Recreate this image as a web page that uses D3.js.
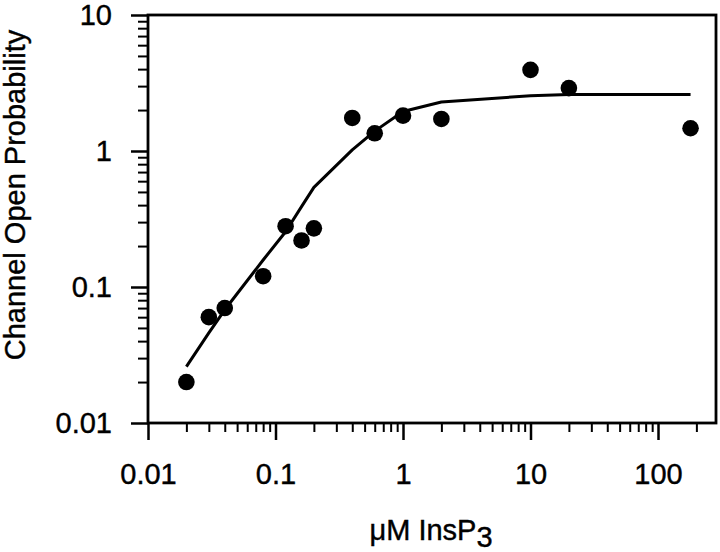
<!DOCTYPE html>
<html>
<head>
<meta charset="utf-8">
<script src="https://cdn.jsdelivr.net/npm/d3@7/dist/d3.min.js"></script>
<style>
  html, body { margin: 0; padding: 0; background: #fff; }
  svg { display: block; font-family: "Liberation Sans", Arial, Helvetica, sans-serif; }
</style>
</head>
<body>
<svg id="chart" width="720" height="552"></svg>
<script>
// Data
const concX = [0.02, 0.03, 0.04, 0.08, 0.12, 0.16, 0.2, 0.4, 0.6, 1, 2, 10, 20, 180];
const openP = [0.02, 0.06, 0.07, 0.12, 0.28, 0.22, 0.27, 1.75, 1.35, 1.82, 1.72, 3.95, 2.9, 1.47];
const fitX  = [0.02, 0.03, 0.04, 0.08, 0.12, 0.16, 0.2, 0.4, 0.6, 1, 2, 10, 20, 180];
const fitY  = [0.026, 0.046, 0.068, 0.158, 0.255, 0.39, 0.54, 1.02, 1.4, 1.95, 2.29, 2.55, 2.6, 2.6];
const xMajorTicks = [0.01, 0.1, 1, 10, 100];
const xTickLabels = ["0.01", "0.1", "1", "10", "100"];
const yMajorTicks = [0.01, 0.1, 1, 10];
const yTickLabels = ["0.01", "0.1", "1", "10"];
const xDomain = [0.01, 285];
const yDomain = [0.01, 10];

const svg = d3.select("#chart");
const L = 148, R = 716, T = 15, B = 423;

const x = d3.scaleLog().domain(xDomain).range([L, R]);
const y = d3.scaleLog().domain(yDomain).range([B, T]);

function minors(domain) {
  const out = [];
  for (let e = Math.floor(Math.log10(domain[0])); e <= Math.ceil(Math.log10(domain[1])); e++) {
    for (let m = 2; m <= 9; m++) {
      const v = m * Math.pow(10, e);
      if (v > domain[0] && v < domain[1]) out.push(v);
    }
  }
  return out;
}

const fontFam = "'Liberation Sans', Arial, sans-serif";

// minor ticks
svg.append("g")
  .attr("transform", `translate(0,${B})`)
  .call(d3.axisBottom(x).tickValues(minors(xDomain)).tickSize(9).tickFormat(""))
  .call(g => g.select(".domain").remove())
  .call(g => g.selectAll("line").attr("stroke", "#000").attr("stroke-width", 2));
svg.append("g")
  .attr("transform", `translate(${L},0)`)
  .call(d3.axisLeft(y).tickValues(minors(yDomain)).tickSize(10).tickFormat(""))
  .call(g => g.select(".domain").remove())
  .call(g => g.selectAll("line").attr("stroke", "#000").attr("stroke-width", 2));

// major ticks + labels
svg.append("g")
  .attr("transform", `translate(0,${B})`)
  .call(d3.axisBottom(x).tickValues(xMajorTicks).tickSize(17).tickPadding(23)
        .tickFormat((d, i) => xTickLabels[i]))
  .call(g => g.select(".domain").remove())
  .call(g => g.selectAll("line").attr("stroke", "#000").attr("stroke-width", 2.5))
  .call(g => g.selectAll("text").attr("fill", "#000").attr("font-size", 29)
        .attr("stroke", "#000").attr("stroke-width", 0.4)
        .attr("font-family", fontFam));
svg.append("g")
  .attr("transform", `translate(${L},0)`)
  .call(d3.axisLeft(y).tickValues(yMajorTicks).tickSize(17).tickPadding(19)
        .tickFormat((d, i) => yTickLabels[i]))
  .call(g => g.select(".domain").remove())
  .call(g => g.selectAll("line").attr("stroke", "#000").attr("stroke-width", 2.5))
  .call(g => g.selectAll("text").attr("fill", "#000").attr("font-size", 29)
        .attr("stroke", "#000").attr("stroke-width", 0.4)
        .attr("font-family", fontFam));

// frame
svg.append("rect")
  .attr("x", L).attr("y", T).attr("width", R - L).attr("height", B - T)
  .attr("fill", "none").attr("stroke", "#000").attr("stroke-width", 2.8);

// fit curve
const fitData = fitX.map((d, i) => [d, fitY[i]]);
svg.append("path")
  .datum(fitData)
  .attr("fill", "none")
  .attr("stroke", "#000")
  .attr("stroke-width", 3)
  .attr("stroke-linejoin", "round")
  .attr("d", d3.line().x(d => x(d[0])).y(d => y(d[1])));

// points
svg.append("g").selectAll("circle")
  .data(concX.map((d, i) => [d, openP[i]]))
  .join("circle")
  .attr("cx", d => x(d[0]))
  .attr("cy", d => y(d[1]))
  .attr("r", 8.3)
  .attr("fill", "#000");

// axis titles
const xt = svg.append("text")
  .attr("x", 431).attr("y", 540)
  .attr("text-anchor", "middle")
  .attr("font-size", 29)
  .attr("stroke", "#000").attr("stroke-width", 0.4)
  .attr("fill", "#000");
xt.append("tspan").text("μM InsP");
xt.append("tspan").attr("dy", 7).text("3");

svg.append("text")
  .attr("transform", "translate(25,195) rotate(-90)")
  .attr("text-anchor", "middle")
  .attr("font-size", 29)
  .attr("stroke", "#000").attr("stroke-width", 0.4)
  .attr("fill", "#000")
  .text("Channel Open Probability");
</script>
</body>
</html>
